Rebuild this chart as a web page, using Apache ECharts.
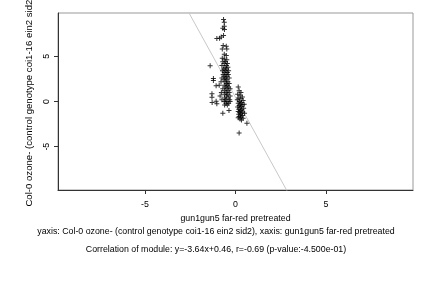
<!DOCTYPE html>
<html>
<head>
<meta charset="utf-8">
<script src="https://cdn.jsdelivr.net/npm/echarts@6/dist/echarts.min.js"></script>
<style>
  html, body { margin: 0; padding: 0; background: #fff; }
  #chart { width: 432px; height: 288px; }
</style>
</head>
<body>
<div id="chart"></div>
<script>
// left group of genes (x: gun1gun5 far-red pretreated, y: Col-0 ozone-)
const xA = [
  -0.66, -0.62, -0.62, -0.7, -0.61, -1.03, -0.88, -0.79, -0.66,
  -0.68, -0.51, -0.73, -0.48, -0.62, -0.51, -0.73, -0.62, -0.48, -1.4,
  -0.55, -0.7, -0.45, -0.62, -0.5, -0.75, -0.58, -0.42, -0.66, -0.5,
  -0.55, -0.38, -0.72, -0.6, -0.45, -0.52, -0.68, -0.4, -0.62, -0.47,
  -0.56, -0.35, -0.75, -0.5, -0.64, -0.42, -0.58, -0.8, -0.5, -0.35,
  -0.62, -0.45, -0.9, -0.55, -0.38, -0.7, -0.48, -0.3, -0.6, -0.42,
  -0.52, -0.78, -0.35, -0.62, -0.45, -0.5, -0.3, -0.85, -0.6, -0.4,
  -0.55, -0.32, -0.75, -0.48, -0.62, -0.3, -0.52, -0.38, -0.45, -0.6,
  -1.22, -1.22, -1.07, -1.3, -1.3, -1.29, -1.07, -1.03, -0.7, -0.36
];
const yA = [
  9.08, 8.78, 8.33, 8.1, 7.97, 6.97, 7.0, 7.14, 7.3,
  6.19, 6.11, 5.81, 5.81, 5.22, 5.08, 4.78, 4.7, 4.63, 3.97,
  4.4, 4.4, 4.2, 4.2, 4.0, 4.0, 3.8, 3.8, 3.6, 3.6,
  3.4, 3.4, 3.4, 3.2, 3.2, 3.0, 3.0, 3.0, 2.8, 2.8,
  2.6, 2.6, 2.6, 2.4, 2.4, 2.2, 2.2, 2.2, 2.0, 2.0,
  1.8, 1.8, 1.8, 1.6, 1.6, 1.4, 1.4, 1.4, 1.2, 1.2,
  1.0, 1.0, 1.0, 0.8, 0.8, 0.6, 0.6, 0.6, 0.4, 0.4,
  0.2, 0.2, 0.2, 0.0, 0.0, 0.0, -0.2, -0.2, -0.4, -0.4,
  2.56, 2.33, 1.74, 0.86, 0.48, -0.11, 0.03, -0.26, -1.3, -1.0
];
// right group of genes
const xB = [
  0.15, 0.2, 0.3, 0.12, 0.25, 0.38, 0.18, 0.3, 0.1, 0.42,
  0.22, 0.33, 0.15, 0.28, 0.4, 0.2, 0.32, 0.12, 0.25, 0.45,
  0.18, 0.35, 0.28, 0.15, 0.4, 0.22, 0.32, 0.18, 0.28, 0.38,
  0.2, 0.3, 0.15, 0.42, 0.25, 0.33, 0.63, 0.2, 0.5, 0.48
];
const yB = [
  1.6, 1.2, 1.0, 0.8, 0.7, 0.5, 0.4, 0.3, 0.2, 0.1,
  0.0, -0.1, -0.2, -0.3, -0.35, -0.45, -0.55, -0.6, -0.7, -0.75,
  -0.85, -0.9, -1.0, -1.1, -1.15, -1.2, -1.3, -1.4, -1.5, -1.55,
  -1.65, -1.75, -1.8, -1.85, -1.95, -2.05, -2.4, -3.5, -1.3, -0.3
];
const pts = xA.map((x, i) => [x, yA[i]]).concat(xB.map((x, i) => [x, yB[i]]));

// regression: y = -3.64x + 0.46
const slope = -3.64;
const icpt = 0.46;
const lim = 9.8;
const fitLine = [[-lim, slope * -lim + icpt], [lim, slope * lim + icpt]];

const tickVals = [-5, 0, 5];
const xName = 'gun1gun5 far-red pretreated';
const yName = 'Col-0 ozone- (control genotype coi1-16 ein2 sid2)';
const caption1 = 'yaxis: Col-0 ozone- (control genotype coi1-16 ein2 sid2), xaxis: gun1gun5 far-red pretreated';
const caption2 = 'Correlation of module: y=-3.64x+0.46, r=-0.69 (p-value:-4.500e-01)';

const font = 'Liberation Sans, Arial, sans-serif';
const fs = 8.8;
const plus = 'path://M4,0h2v4h4v2h-4v4h-2v-4h-4v-2h4z';

const chart = echarts.init(document.getElementById('chart'), null, { renderer: 'canvas' });
chart.setOption({
  animation: false,
  backgroundColor: '#fff',
  textStyle: { fontFamily: font },
  title: [
    { text: caption1, left: 'center', top: 222, textStyle: { fontSize: fs, fontWeight: 'normal', color: '#000', fontFamily: font } },
    { text: caption2, left: 'center', top: 240, textStyle: { fontSize: fs, fontWeight: 'normal', color: '#000', fontFamily: font } }
  ],
  grid: {
    left: 58, right: 19, top: 13, bottom: 98,
    containLabel: false, outerBoundsMode: 'none',
    show: true, borderColor: '#999', borderWidth: 1
  },
  xAxis: {
    type: 'value', min: -lim, max: lim,
    name: xName, nameLocation: 'middle', nameGap: 23,
    nameTextStyle: { fontSize: fs, color: '#000' },
    splitLine: { show: false },
    axisLine: { show: true, onZero: false, lineStyle: { color: '#333', width: 1 } },
    axisTick: { show: true, length: 4, customValues: tickVals, lineStyle: { color: '#333' } },
    axisLabel: { customValues: tickVals, fontSize: fs, color: '#000', margin: 10 }
  },
  yAxis: {
    type: 'value', min: -lim, max: lim,
    name: yName, nameLocation: 'middle', nameGap: 22, nameRotate: 90,
    nameTextStyle: { fontSize: 9.6, color: '#000' },
    splitLine: { show: false },
    axisLine: { show: true, onZero: false, lineStyle: { color: '#333', width: 1 } },
    axisTick: { show: true, length: 4, customValues: tickVals, lineStyle: { color: '#333' } },
    axisLabel: { customValues: tickVals, fontSize: fs, color: '#000', rotate: 90, margin: 7 }
  },
  series: [
    {
      type: 'line', data: fitLine, symbol: 'none', clip: true,
      lineStyle: { color: '#c8c8c8', width: 1 }, z: 1
    },
    {
      type: 'scatter', data: pts, symbol: plus, symbolSize: 5,
      itemStyle: { color: '#000' }, z: 2
    }
  ]
});
</script>
</body>
</html>
